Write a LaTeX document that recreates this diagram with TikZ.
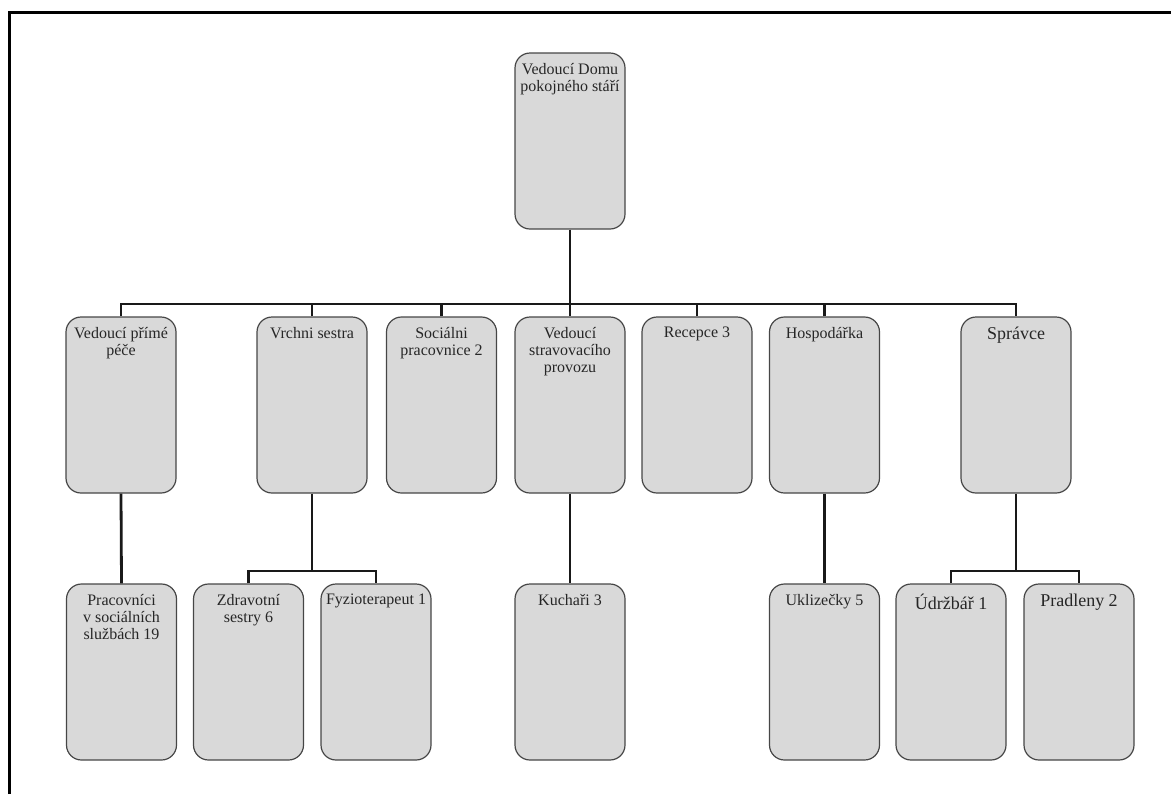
\documentclass[tikz,border=0pt]{standalone}
\usepackage{fontspec}
\setmainfont{Liberation Serif}
\definecolor{boxfill}{RGB}{217,217,217}
\definecolor{boxline}{RGB}{70,70,70}
\newcommand{\boxtext}[1]{\parbox[t][88pt][t]{55pt}{\centering\vspace*{5pt}#1}}
\begin{document}
\begin{tikzpicture}[x=0.5pt, y=-0.5pt]
		\tikzstyle{all} = [line width=0.6pt]
		\tikzstyle{box} = [rectangle, draw=boxline, fill=boxfill, all, inner sep=0pt, rounded corners=7.5pt, text=black!85, font=\fontsize{8}{8.6}\selectfont]
		\tikzstyle{link} = [draw, line width=1.4pt, black!90]
		\useasboundingbox (0,0) rectangle (1171,794);
		\draw[line width=1.5pt] (9,794) -- (9,12) -- (1171,12);
		\coordinate (bus) at (0,304);
		\coordinate (sbus) at (0,571);
		\node[box] (head) at (570,141) {\boxtext{Vedoucí Domu\\pokojného stáří}};
		\node[box] (prime) at (121,405) {\boxtext{Vedoucí přímé\\péče}};
		\node[box] (vrchni) at (312,405) {\boxtext{Vrchni sestra}};
		\node[box] (social) at (441.5,405) {\boxtext{Sociálni\\pracovnice 2}};
		\node[box] (strava) at (570,405) {\boxtext{Vedoucí\\stravovacího\\provozu}};
		\node[box] (recepce) at (697,405) {\boxtext{Recepce 3}};
		\node[box] (hospod) at (824.5,405) {\boxtext{Hospodářka}};
		\node[box] (spravce) at (1016,405) {\boxtext{\fontsize{9}{10}\selectfont Správce}};
		\node[box] (pracov) at (121.5,672) {\boxtext{Pracovníci\\v sociálních\\službách 19}};
		\node[box] (zdrav) at (248.5,672) {\boxtext{Zdravotní\\sestry 6}};
		\node[box] (fyzio) at (376,672) {\boxtext{Fyzioterapeut 1}};
		\node[box] (kuchar) at (570,672) {\boxtext{Kuchaři 3}};
		\node[box] (uklid) at (824.5,672) {\boxtext{Uklizečky 5}};
		\node[box] (udrzba) at (951,672) {\boxtext{\fontsize{9}{10}\selectfont Údržbář 1}};
		\node[box] (pradl) at (1079,672) {\boxtext{\fontsize{9}{10}\selectfont Pradleny 2}};
		\draw[link] (head.south) -- (strava.north);
		\draw[link] (prime.north) |- (spravce.north |- bus) -- (spravce.north);
		\foreach \n in {vrchni, social, recepce, hospod}
			\draw[link] (\n.north) -- (\n.north |- bus);
		\draw[link] (prime.south) -- (pracov.north);
		\draw[link] (vrchni.south) -- (vrchni.south |- sbus);
		\draw[link] (zdrav.north) |- (fyzio.north |- sbus) -- (fyzio.north);
		\draw[link] (strava.south) -- (kuchar.north);
		\draw[link] (hospod.south) -- (uklid.north);
		\draw[link] (spravce.south) -- (spravce.south |- sbus);
		\draw[link] (udrzba.north) |- (pradl.north |- sbus) -- (pradl.north);
\end{tikzpicture}
\end{document}
